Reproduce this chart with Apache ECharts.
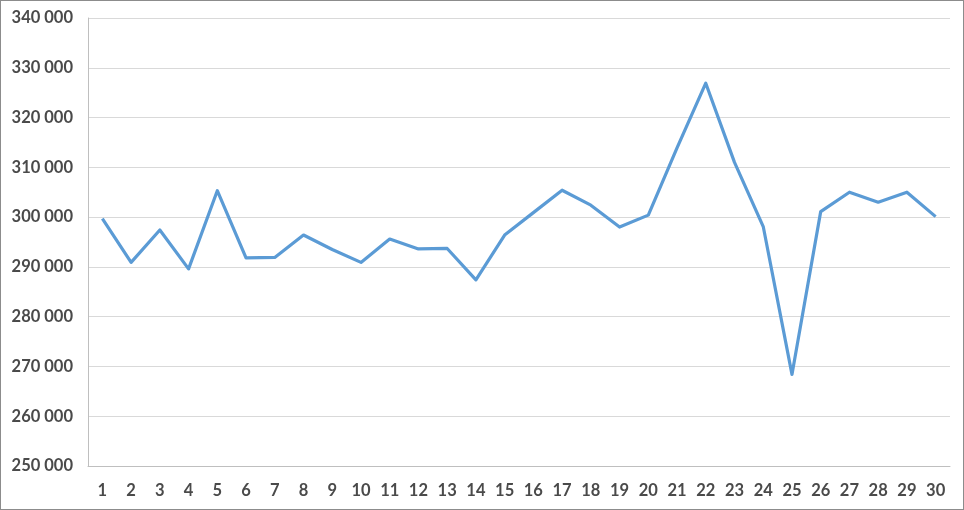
<!DOCTYPE html>
<html><head><meta charset="utf-8">
<script src="https://cdn.jsdelivr.net/npm/echarts@6/dist/echarts.min.js"></script>
<style>
html,body{margin:0;padding:0;background:#fff;}
#c{width:962px;height:508px;border:1px solid #8c8c8c;}
</style></head>
<body><div id="c"></div>
<script>
const categories = ['1','2','3','4','5','6','7','8','9','10','11','12','13','14','15','16','17','18','19','20','21','22','23','24','25','26','27','28','29','30'];
const values = [299700,290900,297400,289600,305300,291800,291900,296400,293500,290900,295600,293600,293700,287400,296400,300900,305400,302400,298000,300400,313900,326900,311000,298100,268400,301100,305000,303000,305000,300100];
const yMin = 250000, yMax = 340000, yStep = 10000;

const chart = echarts.init(document.getElementById('c'));
chart.setOption({
  animation:false,
  grid:{left:87,right:13,top:17,bottom:43},
  xAxis:{type:'category',data:categories,boundaryGap:true,
    axisLine:{lineStyle:{color:'#bfbfbf',width:1}},axisTick:{show:false},
    axisLabel:{color:'#4a4a4a',fontFamily:'Lato',fontWeight:'bold',fontSize:16.5,margin:16,interval:0}},
  yAxis:{type:'value',min:yMin,max:yMax,interval:yStep,
    axisLine:{show:true,lineStyle:{color:'#bfbfbf',width:1}},axisTick:{show:false},
    splitLine:{lineStyle:{color:'#d9d9d9',width:1}},
    axisLabel:{color:'#4a4a4a',fontFamily:'Lato',fontWeight:'bold',fontSize:16.5,margin:15,
      formatter:v=>String(v).replace(/\B(?=(\d{3})+(?!\d))/g,' ')}},
  series:[{type:'line',data:values,symbol:'none',lineStyle:{color:'#5b9bd5',width:3.2,join:'round'}}]
});
</script></body></html>
